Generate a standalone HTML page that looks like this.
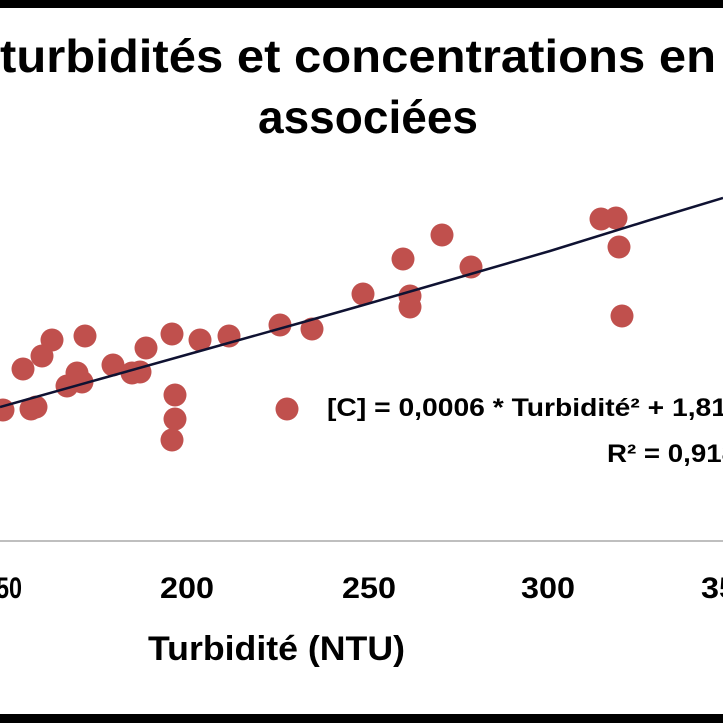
<!DOCTYPE html>
<html><head><meta charset="utf-8"><style>
html,body{margin:0;padding:0;background:#fff;}
svg{display:block;font-family:"Liberation Sans",sans-serif;font-weight:bold;}
</style></head><body>
<svg width="723" height="723" viewBox="0 0 723 723" xmlns="http://www.w3.org/2000/svg">
<rect width="723" height="723" fill="#fff"/>
<rect x="0" y="0" width="723" height="8" fill="#000"/>
<rect x="0" y="714" width="723" height="9" fill="#000"/>
<text x="0" y="72" font-size="46" textLength="716" lengthAdjust="spacingAndGlyphs">turbidités et concentrations en</text>
<text x="258" y="133" font-size="46" textLength="220" lengthAdjust="spacingAndGlyphs">associées</text>
<line x1="0" y1="541" x2="723" y2="541" stroke="#bfbfbf" stroke-width="2"/>
<g font-size="30">
<text x="-17" y="598" textLength="39" lengthAdjust="spacingAndGlyphs">150</text>
<text x="160" y="598" textLength="54" lengthAdjust="spacingAndGlyphs">200</text>
<text x="342" y="598" textLength="54" lengthAdjust="spacingAndGlyphs">250</text>
<text x="521" y="598" textLength="54" lengthAdjust="spacingAndGlyphs">300</text>
<text x="701" y="598" textLength="54" lengthAdjust="spacingAndGlyphs">350</text>
</g>
<text x="148" y="660" font-size="34" textLength="257" lengthAdjust="spacingAndGlyphs">Turbidité (NTU)</text>
<g fill="#c0504d">
<circle cx="3" cy="410" r="11.5"/><circle cx="23" cy="369" r="11.5"/><circle cx="31" cy="409" r="11.5"/><circle cx="36" cy="407" r="11.5"/>
<circle cx="42" cy="356" r="11.5"/><circle cx="52" cy="340" r="11.5"/><circle cx="67" cy="386" r="11.5"/><circle cx="77" cy="373" r="11.5"/>
<circle cx="82" cy="382" r="11.5"/><circle cx="85" cy="336" r="11.5"/><circle cx="113" cy="365" r="11.5"/><circle cx="132" cy="373" r="11.5"/>
<circle cx="140" cy="372" r="11.5"/><circle cx="146" cy="348" r="11.5"/><circle cx="172" cy="334" r="11.5"/><circle cx="175" cy="395" r="11.5"/>
<circle cx="175" cy="419" r="11.5"/><circle cx="172" cy="440" r="11.5"/><circle cx="200" cy="340" r="11.5"/><circle cx="229" cy="336" r="11.5"/>
<circle cx="280" cy="325" r="11.5"/><circle cx="287" cy="409" r="11.5"/><circle cx="312" cy="329" r="11.5"/><circle cx="363" cy="294" r="11.5"/>
<circle cx="403" cy="259" r="11.5"/><circle cx="410" cy="296" r="11.5"/><circle cx="410" cy="307" r="11.5"/><circle cx="442" cy="235" r="11.5"/>
<circle cx="471" cy="267" r="11.5"/><circle cx="601" cy="219" r="11.5"/><circle cx="616" cy="218" r="11.5"/><circle cx="619" cy="247" r="11.5"/>
<circle cx="622" cy="316" r="11.5"/>
</g>
<polyline points="0,407 100,379 200,351 300,323 360,306 450,280 550,251 650,220 723,198" fill="none" stroke="#0f1232" stroke-width="2.5"/>
<text x="327" y="416" font-size="25" textLength="400" lengthAdjust="spacingAndGlyphs">[C] = 0,0006 * Turbidité² + 1,81</text>
<text x="607" y="462" font-size="25" textLength="130" lengthAdjust="spacingAndGlyphs">R² = 0,918</text>
</svg>
</body></html>
